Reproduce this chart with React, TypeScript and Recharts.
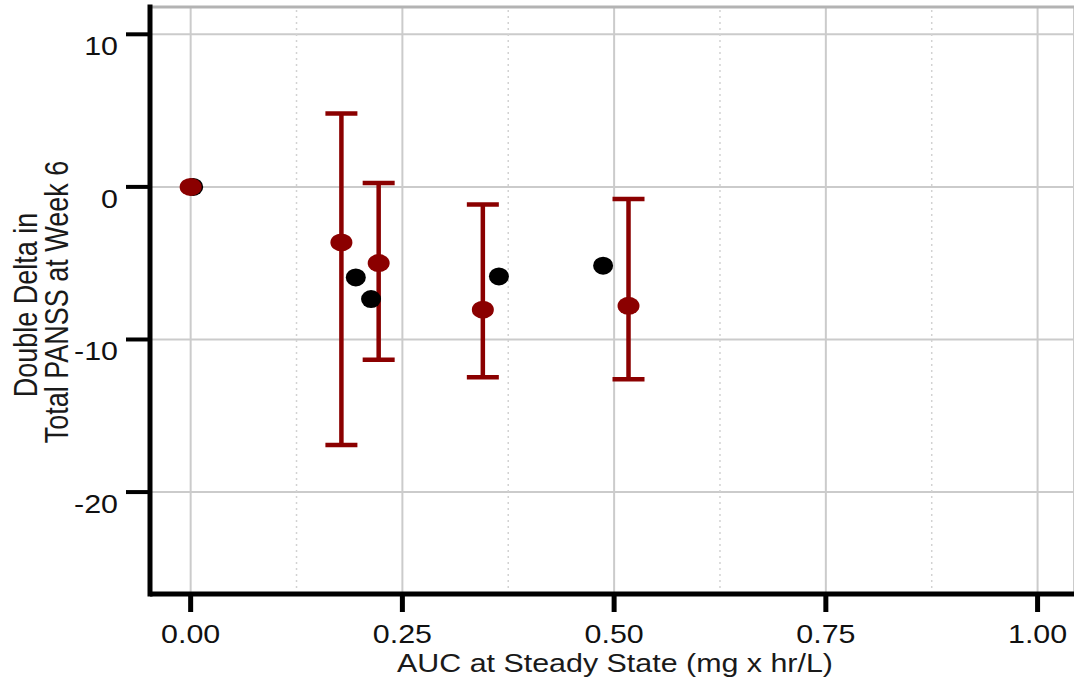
import {
  CartesianGrid,
  ErrorBar,
  Label,
  ReferenceLine,
  Scatter,
  ScatterChart,
  XAxis,
  YAxis,
} from "recharts";

// observed change (dark red) with 95% CI, model predictions (black)
const obsAuc = [0, 0.178, 0.222, 0.345, 0.517];
const obsDelta = [0, -3.64, -4.99, -8.05, -7.79];
const obsLower = [null, -16.91, -11.33, -12.47, -12.6];
const obsUpper = [null, 4.81, 0.26, -1.16, -0.79];

const predAuc = [0.003, 0.195, 0.213, 0.364, 0.487];
const predDelta = [0, -5.93, -7.35, -5.87, -5.16];

const xTicks = [0, 0.25, 0.5, 0.75, 1];
const xMinorTicks = [0.125, 0.375, 0.625, 0.875];
const yTicks = [-20, -10, 0, 10];

const X_DOMAIN: [number, number] = [-0.048, 1.043];
const Y_DOMAIN: [number, number] = [-26.68, 11.79];

const RED = "#8b0000";
const FONT = "'Liberation Sans', Arial, sans-serif";
const STRETCH = 1.17;

const obsRows = obsAuc.map((x, i) => ({
  x,
  y: obsDelta[i],
  low: obsLower[i],
  high: obsUpper[i],
}));
const obsWithCi = obsRows
  .filter((r) => r.low != null && r.high != null)
  .map((r) => ({ ...r, err: [r.y - (r.low as number), (r.high as number) - r.y] }));
const obsNoCi = obsRows.filter((r) => r.low == null);
const predRows = predAuc.map((x, i) => ({ x, y: predDelta[i] }));

function XTick({ x, y, payload }: any) {
  return (
    <text
      transform={`translate(${x},${y + 31}) scale(${STRETCH},1)`}
      textAnchor="middle"
      fontSize={26}
      fontFamily={FONT}
      fill="#111"
    >
      {Number(payload.value).toFixed(2)}
    </text>
  );
}

function YTick({ x, y, payload }: any) {
  return (
    <text
      transform={`translate(${x - 8},${y + 21}) scale(${STRETCH},1)`}
      textAnchor="end"
      fontSize={26}
      fontFamily={FONT}
      fill="#111"
    >
      {payload.value}
    </text>
  );
}

function XTitle() {
  return (
    <text
      transform={`translate(615,672) scale(${STRETCH},1)`}
      textAnchor="middle"
      fontSize={26}
      fontFamily={FONT}
      fill="#1a1a1a"
    >
      AUC at Steady State (mg x hr/L)
    </text>
  );
}

function YTitle() {
  return (
    <g fontSize={27} fontFamily={FONT} fill="#1a1a1a" textAnchor="middle">
      <text transform="translate(37,305) scale(1.2,1) rotate(-90)">Double Delta in</text>
      <text transform="translate(68,302) scale(1.2,1) rotate(-90)">
        Total PANSS at Week 6
      </text>
    </g>
  );
}

const dot = (fill: string, rx: number, ry: number) => (p: any) =>
  <ellipse cx={p.cx} cy={p.cy} rx={rx} ry={ry} fill={fill} />;

export default function App() {
  return (
    <div style={{ position: "absolute", left: 0, top: 0 }}>
      <ScatterChart
        width={1074}
        height={678}
        margin={{ top: 7, right: 0, bottom: 0, left: 0 }}
      >
        <CartesianGrid stroke="#cbcbcb" strokeWidth={2} />
        {xMinorTicks.map((v) => (
          <ReferenceLine
            key={v}
            x={v}
            stroke="#d2d2d2"
            strokeWidth={1.5}
            strokeDasharray="2 4"
          />
        ))}
        <ReferenceLine y={Y_DOMAIN[1]} stroke="#b3b3b3" strokeWidth={3} />
        <XAxis
          type="number"
          dataKey="x"
          domain={X_DOMAIN}
          ticks={xTicks}
          allowDataOverflow
          height={84}
          tickSize={18}
          tickMargin={0}
          tick={<XTick />}
          axisLine={{ stroke: "#000", strokeWidth: 5 }}
          tickLine={{ stroke: "#000", strokeWidth: 5 }}
        >
          <Label content={() => <XTitle />} />
        </XAxis>
        <YAxis
          type="number"
          dataKey="y"
          domain={Y_DOMAIN}
          ticks={yTicks}
          allowDataOverflow
          width={150}
          tickSize={24}
          tickMargin={0}
          tick={<YTick />}
          axisLine={{ stroke: "#000", strokeWidth: 5, strokeLinecap: "square" }}
          tickLine={{ stroke: "#000", strokeWidth: 4 }}
        >
          <Label content={() => <YTitle />} />
        </YAxis>
        <Scatter
          data={predRows}
          fill="#000"
          shape={dot("#000", 10, 9)}
          isAnimationActive={false}
        />
        <Scatter
          data={obsNoCi}
          fill={RED}
          shape={dot(RED, 11, 9)}
          isAnimationActive={false}
        />
        <Scatter
          data={obsWithCi}
          fill={RED}
          shape={dot(RED, 11, 9)}
          isAnimationActive={false}
        >
          <ErrorBar
            dataKey="err"
            direction="y"
            width={16}
            stroke={RED}
            strokeWidth={4.5}
          />
        </Scatter>
      </ScatterChart>
    </div>
  );
}
